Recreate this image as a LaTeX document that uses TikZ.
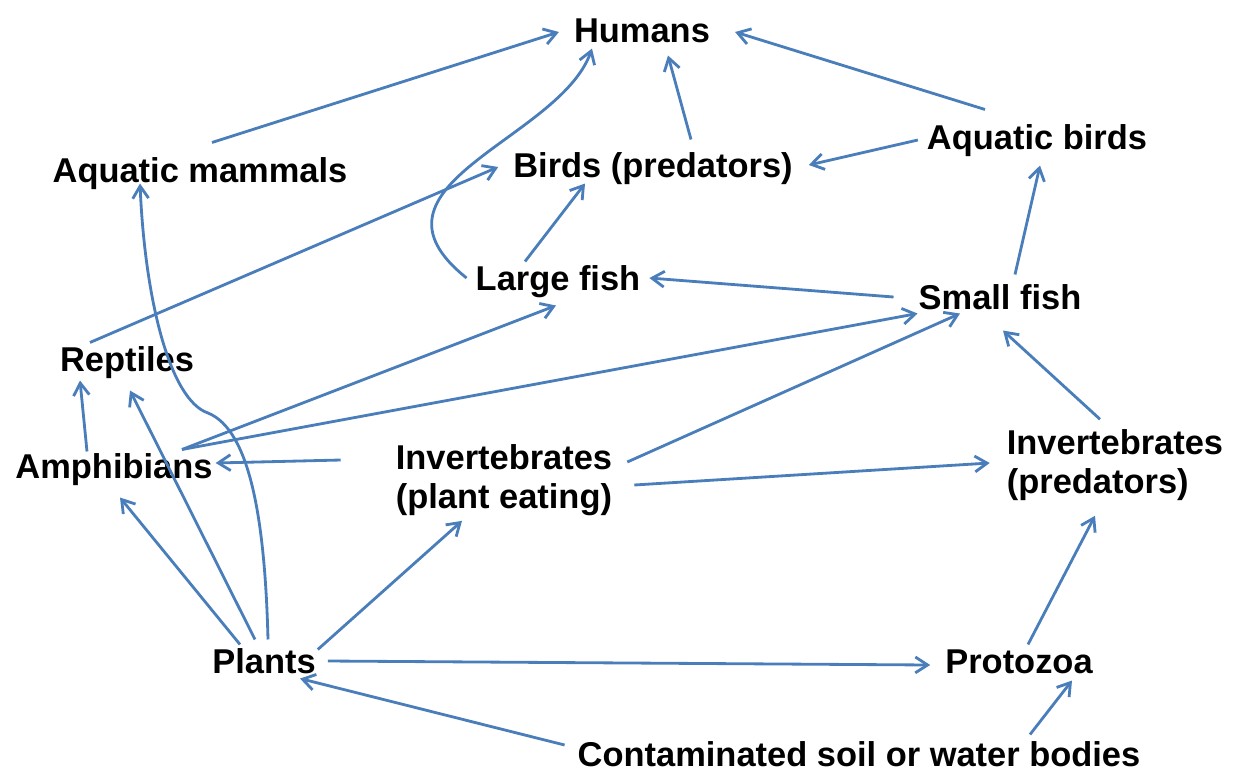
\documentclass[tikz,border=0pt]{standalone}
\usepackage{fontspec}
\setmainfont{Liberation Sans}
\usepackage{xcolor}
\usetikzlibrary{arrows.meta}
\definecolor{linkblue}{RGB}{74,126,187}

\begin{document}
\begin{tikzpicture}[x=0.02cm, y=-0.02cm,
  taxon/.style={inner sep=5pt, font=\bfseries\fontsize{19.6}{22.3}\selectfont, text height=14.1pt, text depth=0pt},
  taxontwo/.style={inner sep=5pt, font=\bfseries\fontsize{19.6}{22.3}\selectfont, align=left},
  feeds/.style={draw=linkblue, line width=1.6pt, -{Straight Barb[length=7pt,width=9pt]}}]
  \useasboundingbox (0,0) rectangle (1245,772);

  \node[taxon] (humans) at (642,30) {Humans};
  \node[taxon] (amammals) at (200,170) {Aquatic mammals};
  \node[taxon] (birdsp) at (653,165) {Birds (predators)};
  \node[taxon] (abirds) at (1037,137) {Aquatic birds};
  \node[taxon] (lfish) at (558,278) {Large fish};
  \node[taxon] (sfish) at (1000,297) {Small fish};
  \node[taxon] (reptiles) at (127,359) {Reptiles};
  \node[taxon] (amphib) at (114,466) {Amphibians};
  \node[taxontwo] (invplant) at (504,480) {Invertebrates\\(plant eating)};
  \node[taxontwo] (invpred) at (1115,465) {Invertebrates\\(predators)};
  \node[taxon] (plants) at (264,661) {Plants};
  \node[taxon] (protozoa) at (1019,661) {Protozoa};
  \node[taxon] (soil) at (859,754) {Contaminated soil or water bodies};

  \draw[feeds] ([shift={(12,-6)}]amammals.north) -- ([shift={(-6,2)}]humans.west);
  \draw[feeds] (lfish.west) .. controls (350,185) and (560,140) .. ([shift={(-50,-3)}]humans.south);
  \draw[feeds] ([shift={(38,-4)}]birdsp.north) -- ([shift={(26,4)}]humans.south);
  \draw[feeds] ([shift={(-52,-6)}]abirds.north) -- ([shift={(16,2)}]humans.east);
  \draw[feeds] ([shift={(0,3)}]abirds.west) -- ([shift={(7,0)}]birdsp.east);
  \draw[feeds] ([shift={(-37,5)}]reptiles.north) -- ([shift={(-6,2)}]birdsp.west);
  \draw[feeds] ([shift={(-33,5)}]lfish.north) -- ([shift={(-68,-3)}]birdsp.south);
  \draw[feeds] ([shift={(-16,0)}]sfish.west) -- (lfish.east);
  \draw[feeds] ([shift={(15,-1)}]sfish.north) -- ([shift={(3,7)}]abirds.south);
  \draw[feeds] ([shift={(68,5)}]amphib.north) -- ([shift={(-2,6)}]lfish.south);
  \draw[feeds] ([shift={(68,5)}]amphib.north) -- ([shift={(8,-5)}]sfish.south west);
  \draw[feeds] ([shift={(-27,7)}]amphib.north) -- ([shift={(-47,0)}]reptiles.south);
  \draw[feeds] ([shift={(-46,-20)}]invplant.west) -- ([shift={(-6,-3)}]amphib.east);
  \draw[feeds] ([shift={(6,-18)}]invplant.east) -- ([shift={(-40,-5)}]sfish.south);
  \draw[feeds] ([shift={(13,5)}]invplant.east) -- ([shift={(-8,-2)}]invpred.west);
  \draw[feeds] ([shift={(-15,-1)}]invpred.north) -- ([shift={(3,12)}]sfish.south);
  \draw[feeds] ([shift={(-24,5)}]plants.north) -- ([shift={(6,10)}]amphib.south);
  \draw[feeds] ([shift={(-9,0)}]plants.north) -- ([shift={(3,10)}]reptiles.south);
  \draw[feeds] ([shift={(4,0)}]plants.north) .. controls (265,520) and (250,430) .. (208,413)
    .. controls (170,400) and (145,300) .. ([shift={(-60,-8)}]amammals.south);
  \draw[feeds] ([shift={(-7,10)}]plants.north east) -- ([shift={(-42,-4)}]invplant.south);
  \draw[feeds] ([shift={(3,0)}]plants.east) -- ([shift={(-6,4)}]protozoa.west);
  \draw[feeds] ([shift={(-4,-9)}]soil.west) -- ([shift={(36,-4)}]plants.south);
  \draw[feeds] ([shift={(171,2)}]soil.north) -- ([shift={(53,-2)}]protozoa.south);
  \draw[feeds] ([shift={(9,5)}]protozoa.north) -- ([shift={(-20,6)}]invpred.south);
\end{tikzpicture}
\end{document}
